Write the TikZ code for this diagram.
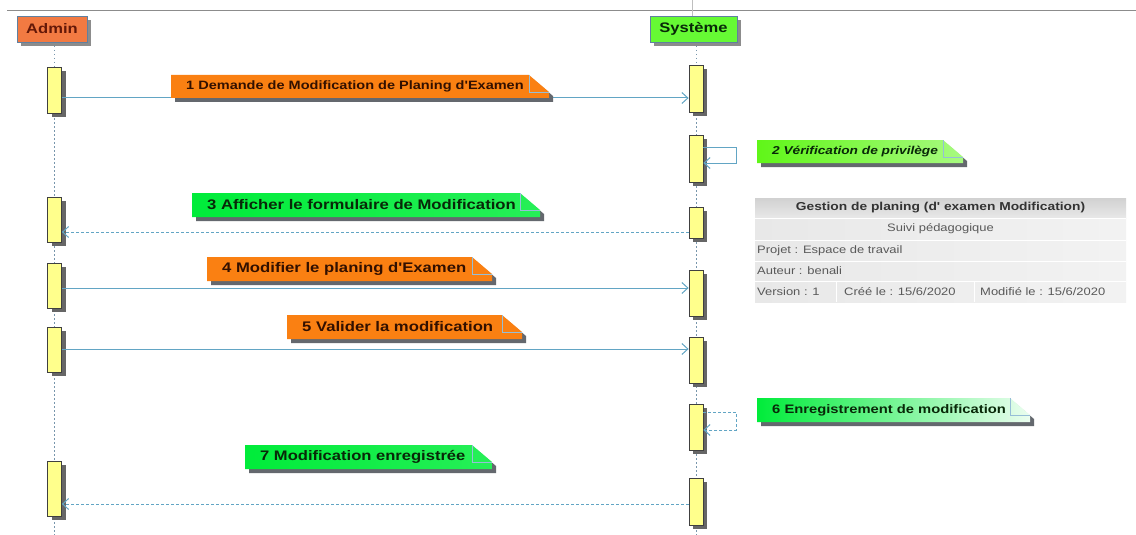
\documentclass[tikz,border=0pt]{standalone}
\usepackage{fontspec}
\setmainfont{Liberation Sans}[FakeStretch=1.2, Ligatures=TeXOff]
\usetikzlibrary{arrows.meta,shadows}

\definecolor{msgblue}{RGB}{98,165,196}
\definecolor{lifecol}{RGB}{120,150,172}
\definecolor{actfill}{RGB}{255,255,140}
\definecolor{noteorange}{RGB}{250,128,18}
\definecolor{adminorange}{RGB}{242,122,66}
\definecolor{sysgreen}{RGB}{102,250,52}
\definecolor{notegreen}{RGB}{0,236,58}
\definecolor{privgreen}{RGB}{96,246,24}
\definecolor{browntext}{RGB}{50,16,0}
\definecolor{greentext}{RGB}{8,40,8}
\definecolor{admintext}{RGB}{100,24,8}
\definecolor{boxline}{RGB}{96,128,160}
\definecolor{foldline}{RGB}{150,190,215}
\definecolor{notesh}{RGB}{100,104,110}

% sticky note with a folded top-right corner
% #1 name, #2 x0, #3 y0, #4 x1, #5 y1, #6 fill options, #7 text options, #8 text
\newcommand{\notebox}[8]{%
  \fill[notesh] (#2+4,#3+4) -- (#4-20+4,#3+4) -- (#4+4,#3+17+4) -- (#4+4,#5+4) -- (#2+4,#5+4) -- cycle;
  \path[#6] (#2,#3) -- (#4-20,#3) -- (#4,#3+17) -- (#4,#5) -- (#2,#5) -- cycle;
  \draw[foldline, line width=0.7pt] (#4-20,#3) -- (#4-20,#3+17) -- (#4,#3+17);
  \node[anchor=west, inner sep=0pt, #7] (#1) at (#2+15,{(#3+#5)/2}) {#8};
}

\begin{document}
\begin{tikzpicture}[x=1pt,y=-1pt,
  actor/.style={draw=boxline, line width=0.8pt, minimum height=26pt, inner sep=0pt,
    font=\fontsize{13.8}{15}\selectfont\bfseries,
    drop shadow={shadow xshift=4pt, shadow yshift=-4pt, fill=black!45, opacity=1}},
  act/.style={draw=black!75, fill=actfill, line width=0.8pt, minimum width=14pt, inner sep=0pt,
    drop shadow={shadow xshift=4pt, shadow yshift=-4pt, fill=black!60, opacity=1}},
  lifeline/.style={draw=lifecol, line width=1pt, dash pattern=on 1.5pt off 2.5pt},
  msg/.style={draw=msgblue, line width=1pt, -{Straight Barb[length=6pt,width=11pt]}},
  reply/.style={msg, dash pattern=on 3pt off 2pt},
  orangenote/.style={fill=noteorange},
  orangetxt/.style={text=browntext},
  greentxt/.style={text=greentext},
  tabtxt/.style={inner sep=0pt, text=black!65, font=\fontsize{10.8}{12}\selectfont},
  tabhead/.style={inner sep=0pt, text=black!80, font=\fontsize{11.5}{13}\selectfont\bfseries}
]
\useasboundingbox (0,0) rectangle (1136,535);
\fill[white] (0,0) rectangle (1136,535);

% frame border and split line
\draw[black!45, line width=1pt] (7,11) -- (1136,11);
\draw[black!25, line width=0.6pt] (692,0) -- (692,16);

% lifelines
\draw[lifeline] (54.5,42) -- (54.5,535);
\draw[lifeline] (696,42) -- (696,535);

% actors
\node[actor, fill=adminorange, minimum width=70pt, text=admintext] (admin) at (52,29) {Admin};
\node[actor, fill=sysgreen, minimum width=87pt, text=greentext] (sys) at (693.5,29) {Système};

% activation bars of Admin
\node[act, minimum height=46pt] (a1) at (54.5,90) {};
\node[act, minimum height=45pt] (a3) at (54.5,219.5) {};
\node[act, minimum height=45pt] (a4) at (54.5,285.5) {};
\node[act, minimum height=45pt] (a5) at (54.5,349.5) {};
\node[act, minimum height=55pt] (a7) at (54.5,488.5) {};

% activation bars of Système
\node[act, minimum height=47pt] (s1) at (696,88.5) {};
\node[act, minimum height=47pt] (s2) at (696,158.5) {};
\node[act, minimum height=31pt] (s3) at (696,222.5) {};
\node[act, minimum height=46pt] (s4) at (696,293) {};
\node[act, minimum height=46pt] (s5) at (696,360) {};
\node[act, minimum height=46pt] (s6) at (696,427) {};
\node[act, minimum height=47pt] (s7) at (696,501.5) {};

% messages
\draw[msg] (a1.east |- 0,98) -- (s1.west |- 0,98);
\draw[msg] (s2.east |- 0,147) -- ++(33,0) -- ++(0,16) -- (s2.east |- 0,163);
\draw[reply] (s3.west |- 0,232) -- (a3.east |- 0,232);
\draw[msg] (a4.east |- 0,288) -- (s4.west |- 0,288);
\draw[msg] (a5.east |- 0,349) -- (s5.west |- 0,349);
\draw[reply] (s6.east |- 0,412) -- ++(33,0) -- ++(0,18) -- (s6.east |- 0,430);
\draw[reply] (s7.west |- 0,504) -- (a7.east |- 0,504);

% message labels
\notebox{n1}{171}{75}{549}{98}{orangenote}{orangetxt, font=\fontsize{12.1}{14}\selectfont\bfseries}{1 Demande de Modification de Planing d'Examen}
\notebox{n2}{757}{140}{963}{163}{left color=privgreen, right color=privgreen!55!white}{greentxt, font=\fontsize{11.4}{13}\selectfont\bfseries\itshape}{2 Vérification de privilège}
\notebox{n3}{192}{193}{540}{217}{left color=notegreen, right color=notegreen!85!white}{greentxt, font=\fontsize{13.9}{16}\selectfont\bfseries}{3 Afficher le formulaire de Modification}
\notebox{n4}{207}{257}{492}{281}{orangenote}{orangetxt, font=\fontsize{13.9}{16}\selectfont\bfseries}{4 Modifier le planing d'Examen}
\notebox{n5}{287}{315}{522}{339}{orangenote}{orangetxt, font=\fontsize{13.9}{16}\selectfont\bfseries}{5 Valider la modification}
\notebox{n6}{757}{398}{1030}{422}{left color=notegreen, right color=notegreen!8!white}{greentxt, font=\fontsize{12.3}{14}\selectfont\bfseries}{6 Enregistrement de modification}
\notebox{n7}{245}{445}{492}{469}{left color=notegreen, right color=notegreen!85!white}{greentxt, font=\fontsize{13.8}{16}\selectfont\bfseries}{7 Modification enregistrée}

% diagram information table
\fill[top color=black!18, bottom color=black!9] (755,198) rectangle (1126,218);
\fill[left color=black!9, right color=black!5] (755,218) rectangle (1126,302);
\draw[white, line width=1pt] (755,218) -- (1126,218) (755,240) -- (1126,240)
  (755,261) -- (1126,261) (755,281) -- (1126,281) (836,281) -- (836,302) (974,281) -- (974,302);
\node[tabhead] (thead) at (940.5,208) {Gestion de planing (d' examen Modification)};
\node[tabtxt] (tsuivi) at (940.5,229) {Suivi pédagogique};
\node[tabtxt, anchor=west] (tproj) at (757,250.5) {Projet : Espace de travail};
\node[tabtxt, anchor=west] (taut) at (757,271) {Auteur : benali};
\node[tabtxt, anchor=west] (tver) at (757,291.5) {Version : 1};
\node[tabtxt, anchor=west] (tcree) at (844,291.5) {Créé le : 15/6/2020};
\node[tabtxt, anchor=west] (tmod) at (980,291.5) {Modifié le : 15/6/2020};
\end{tikzpicture}
\end{document}
